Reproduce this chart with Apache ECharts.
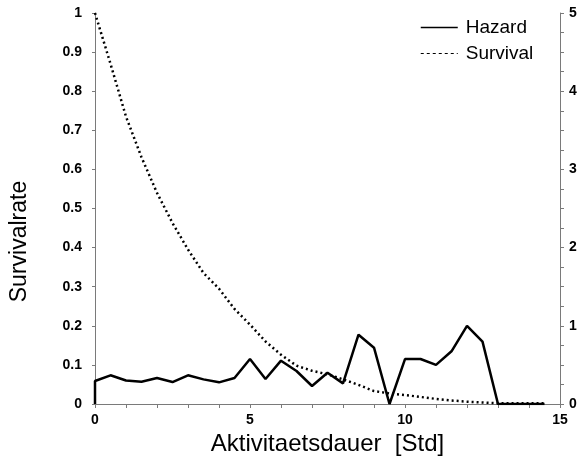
<!DOCTYPE html>
<html>
<head>
<meta charset="utf-8">
<script src="https://cdn.jsdelivr.net/npm/echarts@6/dist/echarts.min.js"></script>
<style>
html,body{margin:0;padding:0;background:#fff;}
#chart{width:584px;height:461px;}
</style>
</head>
<body>
<div id="chart"></div>
<script>
const hours = [0,0.5,1,1.5,2,2.5,3,3.5,4,4.5,5,5.5,6,6.5,7,7.5,8,8.5,9,9.5,10,10.5,11,11.5,12,12.5,13,13.5,14,14.5];
const survival = [1.0,0.87,0.735,0.631,0.54,0.463,0.395,0.335,0.295,0.243,0.203,0.16,0.126,0.098,0.085,0.076,0.063,0.049,0.033,0.027,0.023,0.018,0.013,0.009,0.006,0.004,0.002,0.002,0.002,0.002];
const hazard = [0.294,0.367,0.30,0.285,0.332,0.281,0.367,0.315,0.277,0.332,0.575,0.32,0.554,0.422,0.23,0.40,0.264,0.886,0.72,0.0,0.575,0.575,0.50,0.674,1.0,0.797,0,0,0,0];
const hazardStartValue = 0;
const seriesNames = ['Hazard','Survival'];
const xAxisTitle = 'Aktivitaetsdauer  [Std]';
const yAxisTitle = 'Survivalrate';

const FONT = '"Liberation Sans", Arial, Helvetica, sans-serif';
const axisGray = '#7a7a7a';

const chart = echarts.init(document.getElementById('chart'), null, {renderer:'canvas'});
const hazardData = [[0, hazardStartValue]].concat(hours.map((t,i)=>[t,hazard[i]]));
const survivalData = hours.map((t,i)=>[t,survival[i]]);

chart.setOption({
  animation:false,
  backgroundColor:'#fff',
  grid:{left:89,right:24,top:13,bottom:57,containLabel:false},
  legend:{
    show:true,
    orient:'vertical',
    left:415, top:13,
    itemWidth:37, itemHeight:20, itemGap:7,
    textStyle:{fontFamily:FONT,fontSize:19,color:'#000',padding:[0,0,0,3]},
    data:[
      {name:seriesNames[0], itemStyle:{opacity:0}, lineStyle:{color:'#000',width:1.5,type:'solid'}},
      {name:seriesNames[1], itemStyle:{opacity:0}, lineStyle:{color:'#000',width:1,type:[3,3]}}
    ]
  },
  xAxis:{
    type:'value', min:0, max:15, interval:5,
    name:xAxisTitle, nameLocation:'middle', nameGap:20,
    nameTextStyle:{fontFamily:FONT,fontSize:24,color:'#000'},
    axisLine:{show:true,onZero:false,lineStyle:{color:axisGray,width:1}},
    axisTick:{show:true,length:4,lineStyle:{color:axisGray}},
    minorTick:{show:true,splitNumber:5,length:4,lineStyle:{color:axisGray}},
    splitLine:{show:false},
    axisLabel:{fontFamily:FONT,fontSize:14,fontWeight:'bold',color:'#000',margin:9}
  },
  yAxis:[
    {
      type:'value', min:0, max:1, interval:0.1,
      name:yAxisTitle, nameLocation:'middle', nameGap:64, nameRotate:90,
      nameTextStyle:{fontFamily:FONT,fontSize:23,color:'#000',padding:[0,66,0,0]},
      axisLine:{show:true,lineStyle:{color:axisGray,width:1}},
      axisTick:{show:true,length:3,lineStyle:{color:axisGray}},
      splitLine:{show:false},
      axisLabel:{fontFamily:FONT,fontSize:14,fontWeight:'bold',color:'#000',margin:13,
        formatter:v=>String(Math.round(v*10)/10)}
    },
    {
      type:'value', min:0, max:5, interval:1, position:'right',
      axisLine:{show:true,lineStyle:{color:axisGray,width:1}},
      axisTick:{show:true,length:4,lineStyle:{color:axisGray}},
      minorTick:{show:true,splitNumber:4,length:4,lineStyle:{color:axisGray}},
      splitLine:{show:false},
      axisLabel:{fontFamily:FONT,fontSize:14,fontWeight:'bold',color:'#000',margin:9}
    }
  ],
  series:[
    {
      name:seriesNames[0], type:'line', yAxisIndex:1, data:hazardData,
      symbol:'none', z:3,
      lineStyle:{color:'#000',width:2.5,type:'solid'}, itemStyle:{color:'#000'}
    },
    {
      name:seriesNames[1], type:'line', yAxisIndex:0, data:survivalData,
      symbol:'none', z:2,
      lineStyle:{color:'#000',width:2.5,type:[2,3]}, itemStyle:{color:'#000'}
    }
  ]
});
</script>
</body>
</html>
